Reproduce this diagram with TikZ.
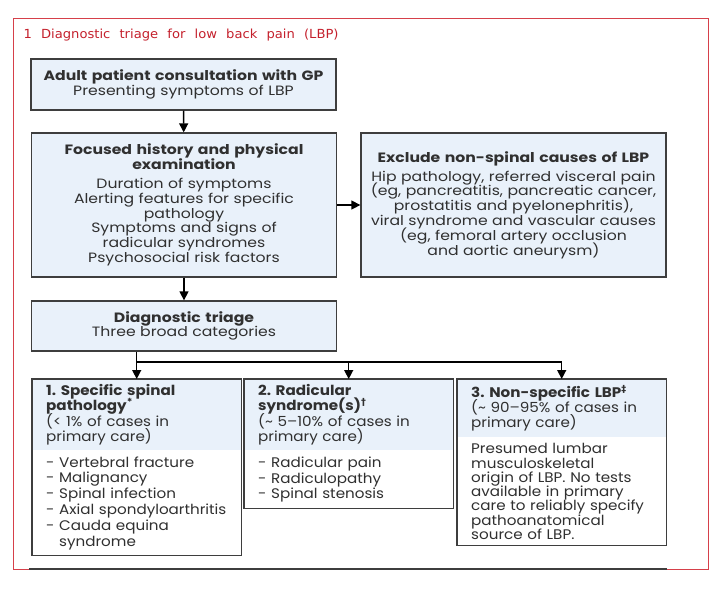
\documentclass[tikz,border=0pt]{standalone}
\usepackage{fontspec}
\setmainfont{Poppins}[FakeStretch=1.09]
\newfontfamily\boxfont{Poppins}[FakeStretch=1.16]
\newfontfamily\titlefont{DejaVu Sans}[WordSpace=2.2, FakeStretch=1.05]
\newfontfamily\symfont{DejaVu Sans}
\usetikzlibrary{arrows.meta}
\frenchspacing
\definecolor{framered}{RGB}{214,64,74}
\definecolor{titlered}{RGB}{196,32,44}
\definecolor{paleblue}{RGB}{233,241,250}
\definecolor{edgegray}{RGB}{62,62,62}
\definecolor{inkgray}{RGB}{48,48,48}

\tikzset{
  box/.style={draw=edgegray, line width=1.3pt, fill=paleblue, text=inkgray,
    text width=291pt, inner xsep=7pt, inner ysep=0pt, align=center,
    execute at begin node={\lineskiplimit=-20pt\relax},
    font=\boxfont\fontsize{13.5}{14.8}\selectfont},
  head/.style={fill=paleblue, text=inkgray, text width=195pt, inner xsep=7pt,
    inner ysep=0pt, align=left,
    execute at begin node={\leftskip=7pt\lineskiplimit=-20pt\relax},
    font=\fontsize{13.9}{15.2}\selectfont},
  body/.style={head, fill=white, font=\fontsize{13.9}{15.8}\selectfont},
  edge/.style={draw=edgegray, line width=1.3pt},
  arr/.style={line width=1.4pt, -{Triangle[length=9pt,width=9pt]}}
}

\begin{document}
\begin{tikzpicture}[x=1pt,y=-1pt]
\useasboundingbox (0,0) rectangle (722,590);
\draw[framered, line width=1pt] (13,18) rectangle (708,569);
\draw[edgegray, line width=1.5pt] (29,569) -- (667,569);
\node[anchor=west, text=titlered, font=\titlefont\fontsize{12.5}{14}\selectfont] (title) at (20,35)
  {1 Diagnostic triage for low back pain (LBP)};

% top of the chart
\node[box, minimum height=51pt] (consult) at (183.5,84.5)
  {{\bfseries Adult patient consultation with GP}\\Presenting symptoms of LBP};
\node[box, minimum height=144pt] (history) at (184,205)
  {{\bfseries Focused history and physical\\examination}\\[4pt]
   Duration of symptoms\\Alerting features for specific\\pathology\\
   Symptoms and signs of\\radicular syndromes\\Psychosocial risk factors};
\node[box, minimum height=144pt] (exclude) at (513.5,205)
  {{\bfseries Exclude non-spinal causes of LBP}\\[4pt]
   Hip pathology, referred visceral pain\\(eg, pancreatitis, pancreatic cancer,\\
   prostatitis and pyelonephritis),\\viral syndrome and vascular causes\\
   (eg, femoral artery occlusion\\and aortic aneurysm)};
\node[box, minimum height=50pt] (triage) at (184,326)
  {{\bfseries Diagnostic triage}\\Three broad categories};

% the three categories
\node[head, minimum height=71pt, anchor=north west] (spech) at (32,379)
  {{\bfseries 1. Specific spinal\\pathology\textsuperscript{*}}\\(< 1\% of cases in\\primary care)};
\node[body, minimum height=105pt, anchor=north] (specb) at (spech.south)
  {- Vertebral fracture\\- Malignancy\\- Spinal infection\\- Axial spondyloarthritis\\
   - Cauda equina\\\hphantom{- }syndrome};
\node[head, minimum height=71pt, anchor=north west] (radh) at (244,379)
  {{\bfseries 2. Radicular\\syndrome(s)\textsuperscript{\symfont †}}\\(\textasciitilde{} 5--10\% of cases in\\primary care)};
\node[body, minimum height=58pt, anchor=north] (radb) at (radh.south)
  {- Radicular pain\\- Radiculopathy\\- Spinal stenosis};
\node[head, minimum height=58pt, anchor=north west] (nonh) at (457,379)
  {{\bfseries 3. Non-specific LBP\textsuperscript{\symfont ‡}}\\(\textasciitilde{} 90--95\% of cases in\\primary care)};
\node[body, minimum height=108pt, anchor=north, font=\fontsize{13.9}{14.3}\selectfont] (nonb) at (nonh.south)
  {Presumed lumbar\\musculoskeletal\\origin of LBP. No tests\\available in primary\\
   care to reliably specify\\pathoanatomical\\source of LBP.};
\draw[edge] (spech.north west) rectangle (specb.south east);
\draw[edge] (radh.north west) rectangle (radb.south east);
\draw[edge] (nonh.north west) rectangle (nonb.south east);

% connectors
\coordinate (split) at (136,362);
\draw[arr] (consult) -- (history);
\draw[arr] (history) -- (exclude);
\draw[arr] (history) -- (triage);
\draw[arr] (triage.south -| spech.north) -- (spech.north);
\draw[arr] (split) -| (radh.north);
\draw[arr] (split) -| (nonh.north);
\end{tikzpicture}
\end{document}
